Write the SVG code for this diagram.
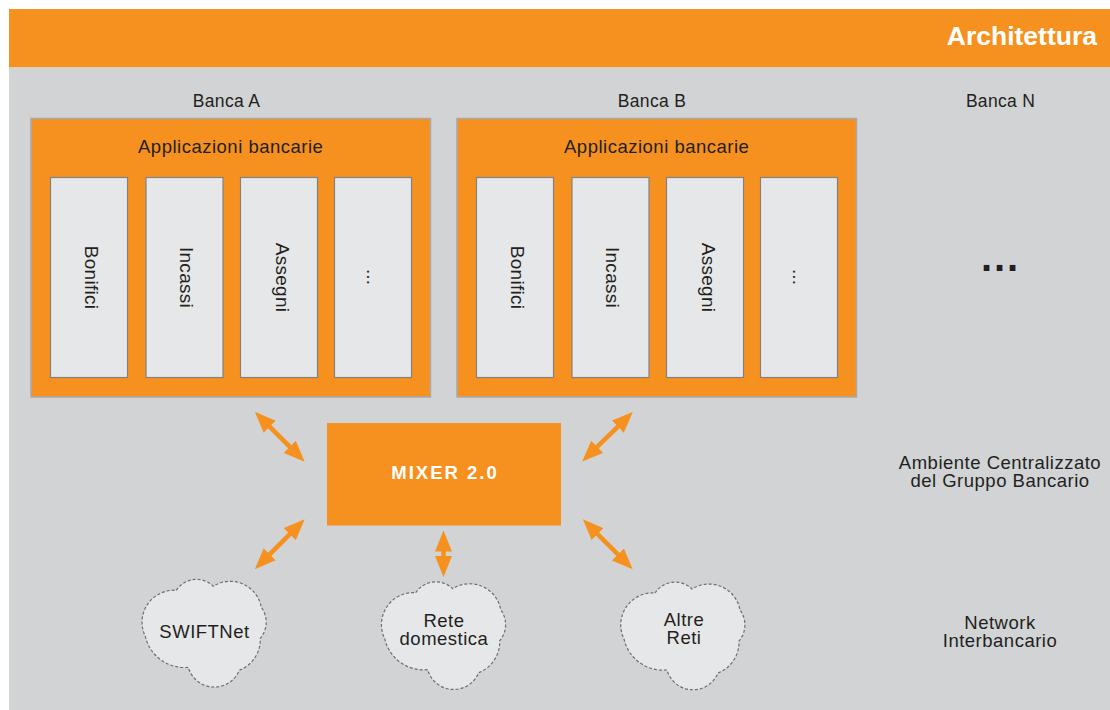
<svg xmlns="http://www.w3.org/2000/svg" width="1110" height="710" viewBox="0 0 1110 710">
<style>
.t{font-family:"Liberation Sans",Arial,sans-serif;fill:#231f20;font-size:18.5px;letter-spacing:0.5px;text-anchor:middle}
.lbl{font-size:17.5px;letter-spacing:0.3px}
.v{font-size:19px;letter-spacing:0.3px}
.box{fill:#f6911f;stroke:#a7a9ac;stroke-width:1.5}
.col{fill:#e6e7e8;stroke:#808285;stroke-width:1.2}
.cloud{fill:#e6e7e8;stroke:#6d6e71;stroke-width:1.2;stroke-dasharray:3 2}
.arr{stroke:#f6911f;stroke-width:4.5;fill:none;marker-start:url(#ah);marker-end:url(#ah)}
</style>
<defs>
<marker id="ah" markerUnits="userSpaceOnUse" markerWidth="21" markerHeight="17" viewBox="0 0 21 17" refX="0.5" refY="8.5" orient="auto-start-reverse">
<path d="M0,0 L21,8.5 L0,17 Z" fill="#f6911f"/>
</marker>
<path id="cl" d="M34,12 A24,24 0 0 1 71,8 A31.5,31.5 0 0 1 119,29 A25,25 0 0 1 118,60 A33,33 0 0 1 97,92 A27,27 0 0 1 46,89 A40,40 0 0 1 3,58 A32,32 0 0 1 34,12 Z"/>
</defs>
<rect x="0" y="0" width="1110" height="710" fill="#ffffff"/>
<g id="header">
<rect x="9" y="9" width="1101" height="58.5" fill="#f6911f"/>
<text x="1097" y="44.5" style="font-family:'Liberation Sans',Arial,sans-serif;font-weight:bold;font-size:26.5px;fill:#ffffff;text-anchor:end">Architettura</text>
</g>
<rect id="panel" x="9" y="67.5" width="1101" height="642.5" fill="#d1d3d4"/>
<g id="labels">
<text class="t lbl" x="226.5" y="106.7">Banca A</text>
<text class="t lbl" x="652" y="106.7">Banca B</text>
<text class="t lbl" x="1000.5" y="106.7">Banca N</text>
<text class="t" x="1000" y="469.3">Ambiente Centralizzato</text>
<text class="t" x="1000" y="487.3">del Gruppo Bancario</text>
<text class="t" x="1000" y="629">Network</text>
<text class="t" x="1000" y="647.3">Interbancario</text>
</g>
<g id="bancaA">
<rect class="box" x="31" y="118.5" width="399.5" height="278.5"/>
<text class="t" x="230.7" y="152.5">Applicazioni bancarie</text>
<rect class="col" x="50.5" y="177.5" width="77" height="200"/>
<rect class="col" x="146" y="177.5" width="77" height="200"/>
<rect class="col" x="240.5" y="177.5" width="77" height="200"/>
<rect class="col" x="334.5" y="177.5" width="77" height="200"/>
<text class="t v" transform="translate(84.5,277.5) rotate(90)">Bonifici</text>
<text class="t v" transform="translate(180,277.5) rotate(90)">Incassi</text>
<text class="t v" transform="translate(275.5,277.5) rotate(90)">Assegni</text>
<text class="t v" style="letter-spacing:0" transform="translate(367,277) rotate(90)">...</text>
</g>
<g id="bancaB">
<rect class="box" x="457" y="118.5" width="399.5" height="278.5"/>
<text class="t" x="656.7" y="152.5">Applicazioni bancarie</text>
<rect class="col" x="476.5" y="177.5" width="77" height="200"/>
<rect class="col" x="572" y="177.5" width="77" height="200"/>
<rect class="col" x="666.5" y="177.5" width="77" height="200"/>
<rect class="col" x="760.5" y="177.5" width="77" height="200"/>
<text class="t v" transform="translate(510.5,277.5) rotate(90)">Bonifici</text>
<text class="t v" transform="translate(606,277.5) rotate(90)">Incassi</text>
<text class="t v" transform="translate(701.5,277.5) rotate(90)">Assegni</text>
<text class="t v" style="letter-spacing:0" transform="translate(793,277) rotate(90)">...</text>
</g>
<g id="bancaN">
<text x="981" y="270.7" style="font-family:'Liberation Sans',Arial,sans-serif;font-weight:bold;font-size:40px;letter-spacing:1.9px;fill:#231f20">...</text>
</g>
<g id="mixer">
<rect x="327" y="423" width="234" height="102.5" fill="#f6911f"/>
<text x="445" y="478.7" style="font-family:'Liberation Sans',Arial,sans-serif;font-weight:bold;font-size:18.5px;letter-spacing:2px;fill:#ffffff;text-anchor:middle">MIXER 2.0</text>
</g>
<g id="swiftnet">
<use href="#cl" class="cloud" transform="translate(142.3,578.3)"/>
<text class="t" x="204.5" y="637.7">SWIFTNet</text>
</g>
<g id="rete">
<use href="#cl" class="cloud" transform="translate(381.7,580.7)"/>
<text class="t" x="444" y="626.7">Rete</text>
<text class="t" x="444" y="645">domestica</text>
</g>
<g id="altre">
<use href="#cl" class="cloud" transform="translate(621,581)"/>
<text class="t" x="684" y="625.7">Altre</text>
<text class="t" x="684" y="644">Reti</text>
</g>
<g id="connectors">
<line class="arr" x1="269.35" y1="426.35" x2="290.15" y2="447.15"/>
<line class="arr" x1="618.15" y1="426.35" x2="596.85" y2="447.15"/>
<line class="arr" x1="290.15" y1="533.85" x2="269.35" y2="554.65"/>
<line class="arr" x1="597.35" y1="533.85" x2="618.15" y2="554.65"/>
<line class="arr" x1="443.5" y1="551" x2="443.5" y2="556.5"/>
</g>
</svg>
